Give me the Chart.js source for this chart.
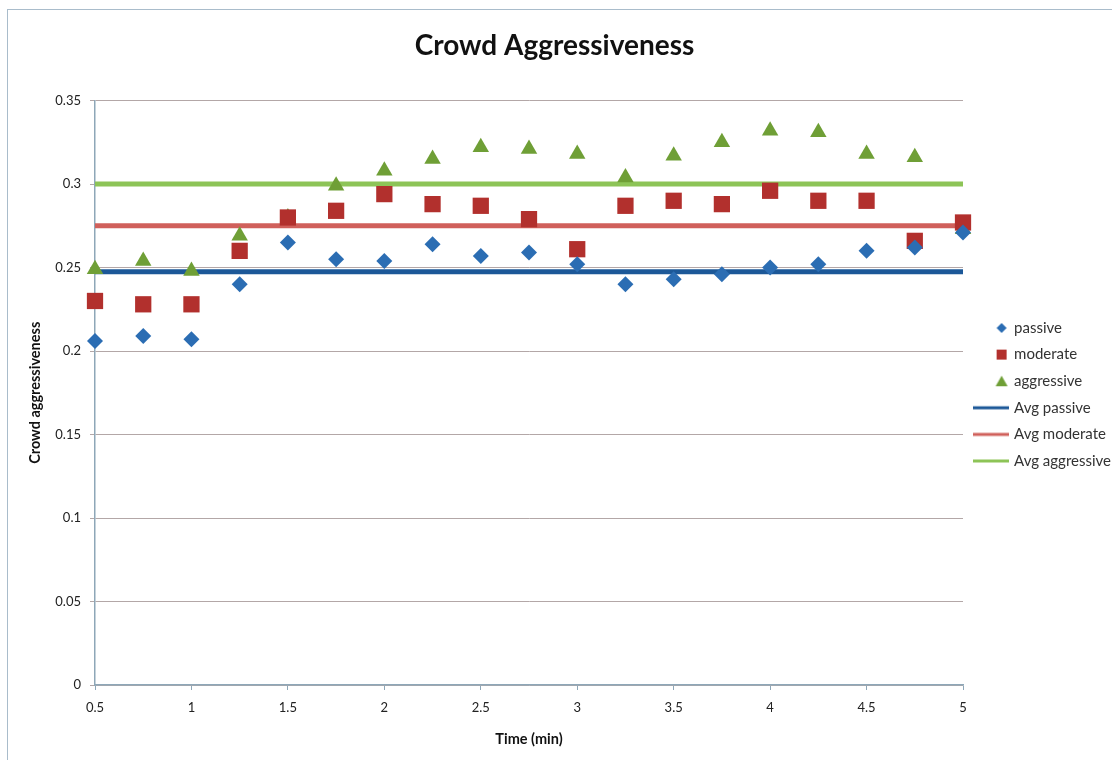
<!DOCTYPE html>
<html>
<head>
<meta charset="utf-8">
<script src="https://cdn.jsdelivr.net/npm/chart.js@4/dist/chart.umd.min.js"></script>
<style>
  html, body { margin: 0; padding: 0; background: #fff; }
  #wrap { position: relative; width: 1112px; height: 760px; overflow: hidden; }
  #frame {
    position: absolute; left: 7px; top: 9px; width: 1200px; height: 900px;
    border: 1px solid #a9bccb; box-shadow: 1px 1px 0 #f2d6cf;
  }
  canvas { position: absolute; left: 0; top: 0; }
</style>
</head>
<body>
<div id="wrap">
  <div id="frame"></div>
  <canvas id="chart" width="1112" height="760"></canvas>
</div>
<script>
const times = [0.5, 0.75, 1, 1.25, 1.5, 1.75, 2, 2.25, 2.5, 2.75, 3, 3.25, 3.5, 3.75, 4, 4.25, 4.5, 4.75, 5];
const passive = [0.206, 0.209, 0.207, 0.240, 0.265, 0.255, 0.254, 0.264, 0.257, 0.259, 0.252, 0.240, 0.243, 0.246, 0.250, 0.252, 0.260, 0.262, 0.271];
const moderate = [0.230, 0.228, 0.228, 0.260, 0.280, 0.284, 0.294, 0.288, 0.287, 0.279, 0.261, 0.287, 0.290, 0.288, 0.296, 0.290, 0.290, 0.266, 0.277];
const aggressive = [0.249, 0.254, 0.248, 0.269, 0.280, 0.299, 0.308, 0.315, 0.322, 0.321, 0.318, 0.304, 0.317, 0.325, 0.332, 0.331, 0.318, 0.316, 0.273];
const avgPassive = 0.2475;
const avgModerate = 0.275;
const avgAggressive = 0.3;
const xTicks = [0.5, 1, 1.5, 2, 2.5, 3, 3.5, 4, 4.5, 5];
const yTicks = [0, 0.05, 0.1, 0.15, 0.2, 0.25, 0.3, 0.35];

const FONT = "Lato, 'Open Sans', sans-serif";
const axisColor = "#8ea7b8";
const gridColor = "#b3a7a7";
const colors = {
  passive: "#2b6db3",
  moderate: "#b2302d",
  aggressive: "#6f9f36",
  avgPassive: "#1c5898",
  avgModerate: "#d0605b",
  avgAggressive: "#8dc457",
};

// small canvases used as legend icons (36 x 14)
function icon(draw) {
  const c = document.createElement("canvas");
  c.width = 36;
  c.height = 14;
  draw(c.getContext("2d"));
  return c;
}
const legendIcons = [
  icon((g) => { g.fillStyle = colors.passive; g.beginPath(); g.moveTo(29, 2); g.lineTo(34, 7); g.lineTo(29, 12); g.lineTo(24, 7); g.closePath(); g.fill(); }),
  icon((g) => { g.fillStyle = colors.moderate; g.fillRect(24, 2, 10, 10); }),
  icon((g) => { g.fillStyle = colors.aggressive; g.beginPath(); g.moveTo(29, 1.5); g.lineTo(35, 12); g.lineTo(23, 12); g.closePath(); g.fill(); }),
  icon((g) => { g.fillStyle = colors.avgPassive; g.fillRect(0, 5.5, 36, 3); }),
  icon((g) => { g.fillStyle = colors.avgModerate; g.fillRect(0, 5.5, 36, 3); }),
  icon((g) => { g.fillStyle = colors.avgAggressive; g.fillRect(0, 5.5, 36, 3); }),
];

const toPoints = (vals) => vals.map((v, i) => ({ x: times[i], y: v }));
const flat = (v) => [{ x: times[0], y: v }, { x: times[times.length - 1], y: v }];

const scatterSet = (label, vals, color, style, radius) => ({
  type: "scatter",
  label: label,
  data: toPoints(vals),
  pointStyle: style,
  pointRadius: radius,
  pointHoverRadius: radius,
  backgroundColor: color,
  borderColor: color,
  pointBorderWidth: 0,
  showLine: false,
  clip: false,
});

const avgSet = (label, v, color, width) => ({
  type: "line",
  label: label,
  data: flat(v),
  borderColor: color,
  borderWidth: width,
  pointRadius: 0,
  pointHoverRadius: 0,
  fill: false,
});

new Chart(document.getElementById("chart").getContext("2d"), {
  type: "scatter",
  data: {
    datasets: [
      scatterSet("passive", passive, colors.passive, "rectRot", 8),
      scatterSet("moderate", moderate, colors.moderate, "rect", 11.5),
      scatterSet("aggressive", aggressive, colors.aggressive, "triangle", 9.5),
      avgSet("Avg passive", avgPassive, colors.avgPassive, 5),
      avgSet("Avg moderate", avgModerate, colors.avgModerate, 5),
      avgSet("Avg aggressive", avgAggressive, colors.avgAggressive, 5),
    ],
  },
  options: {
    responsive: false,
    animation: false,
    layout: {
      padding: { left: -12, right: -9, top: 0, bottom: 12 },
    },
    plugins: {
      tooltip: { enabled: false },
      title: {
        display: true,
        text: "Crowd Aggressiveness",
        color: "#111",
        font: { family: FONT, size: 28, weight: "bold" },
        padding: { top: 29, bottom: 38 },
      },
      legend: {
        position: "right",
        title: {
          display: true,
          text: " ",
          font: { size: 12 },
          padding: { top: 26.6, bottom: 0 },
        },
        labels: {
          usePointStyle: true,
          pointStyleWidth: 32,
          boxHeight: 14,
          padding: 11.6,
          color: "#333",
          font: { family: FONT, size: 15 },
          generateLabels: (chart) => {
            const items = Chart.defaults.plugins.legend.labels.generateLabels(chart);
            items.forEach((it, i) => { it.pointStyle = legendIcons[i]; it.rotation = 0; });
            return items;
          },
        },
      },
    },
    scales: {
      x: {
        type: "linear",
        min: 0.5,
        max: 5,
        afterBuildTicks: (s) => { s.ticks = xTicks.map((v) => ({ value: v })); },
        afterFit: (s) => { s.height = 63; },
        grid: { drawOnChartArea: false, tickLength: 5, color: axisColor },
        border: { color: axisColor, width: 1.5 },
        ticks: {
          color: "#222",
          padding: 10,
          maxRotation: 0,
          font: { family: FONT, size: 13 },
          callback: (v) => String(v),
        },
        title: {
          display: true,
          text: "Time (min)",
          color: "#111",
          padding: 0,
          font: { family: FONT, size: 14.5, weight: "bold" },
        },
      },
      y: {
        min: 0,
        max: 0.35,
        afterBuildTicks: (s) => { s.ticks = yTicks.map((v) => ({ value: v })); },
        afterFit: (s) => { s.width = 107; },
        grid: { color: gridColor, tickLength: 5, lineWidth: 1 },
        border: { color: axisColor, width: 1.5 },
        ticks: {
          color: "#222",
          padding: 9,
          font: { family: FONT, size: 13 },
          callback: (v) => String(Math.round(v * 100) / 100),
        },
        title: {
          display: true,
          text: "Crowd aggressiveness",
          color: "#111",
          padding: { top: 39, bottom: 0 },
          font: { family: FONT, size: 14.5, weight: "bold" },
        },
      },
    },
  },
});
</script>
</body>
</html>
